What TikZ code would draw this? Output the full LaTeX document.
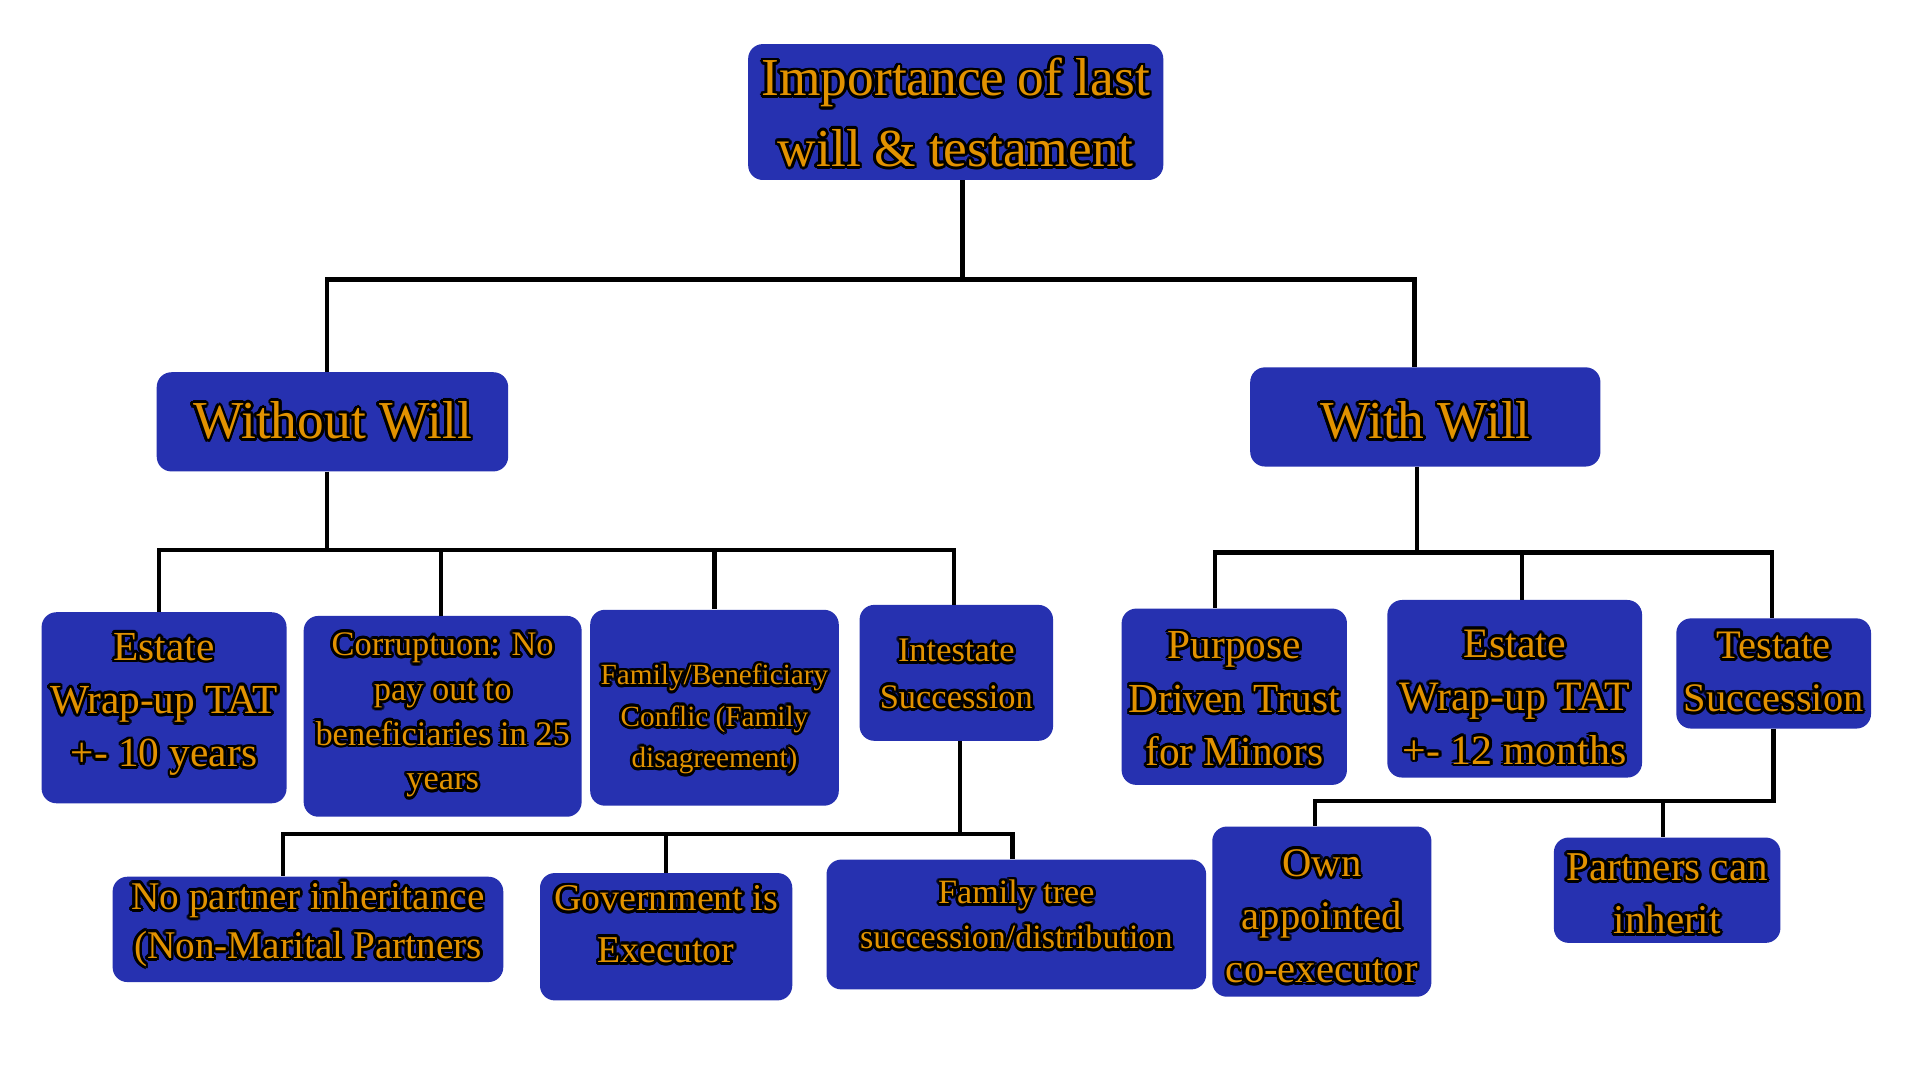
\documentclass[tikz,border=0pt]{standalone}
\usepackage{fontspec}
\setmainfont{Liberation Serif}
\usepackage{contour}
\contourlength{1.6pt}
\contournumber{16}
\definecolor{boxblue}{RGB}{38,49,176}
\definecolor{txtorange}{RGB}{226,146,0}
\newcommand\ol[1]{\contour{black}{#1}}
\tikzset{
  box/.style={fill=boxblue, rounded corners=3mm, inner sep=0pt},
  lbl/.style={text=txtorange, align=center, inner sep=0pt},
  wire/.style={line width=0.9mm, black},
  fs/.style 2 args={font=\fontsize{#1}{#2}\selectfont}
}
\begin{document}
\begin{tikzpicture}[x=0.25mm,y=-0.25mm]
\useasboundingbox (0,0) rectangle (1568,883);
\fill[white] (0,0) rectangle (1568,883);

% boxes
\node[box, minimum width=84.75mm, minimum height=27.75mm] (root) at (780.5,91.5) {};
\node[box, minimum width=71.75mm, minimum height=20.25mm] (without) at (271.5,344.5) {};
\node[box, minimum width=71.5mm, minimum height=20.25mm] (with) at (1164,340.5) {};
\node[box, minimum width=50mm, minimum height=39mm] (estA) at (134,578) {};
\node[box, minimum width=56.75mm, minimum height=41mm] (corr) at (361.5,585) {};
\node[box, minimum width=50.75mm, minimum height=40mm] (famben) at (583.5,578) {};
\node[box, minimum width=39.5mm, minimum height=27.75mm] (intest) at (781,549.5) {};
\node[box, minimum width=79.75mm, minimum height=21.5mm] (nopart) at (251.5,759) {};
\node[box, minimum width=51.5mm, minimum height=26mm] (gov) at (544,765) {};
\node[box, minimum width=77.5mm, minimum height=26.5mm] (famtree) at (830,755) {};
\node[box, minimum width=46mm, minimum height=36mm] (purp) at (1008,569) {};
\node[box, minimum width=52mm, minimum height=36.25mm] (estB) at (1237,562.5) {};
\node[box, minimum width=39.75mm, minimum height=22.5mm] (test) at (1448.5,550) {};
\node[box, minimum width=44.75mm, minimum height=34.75mm] (own) at (1079.5,744.5) {};
\node[box, minimum width=46.25mm, minimum height=21.5mm] (partn) at (1361.5,727) {};

% texts
\node[lbl, fs={31}{41}] (rootT) at ([yshift=-0.4mm]root.center) {\ol{Importance of last}\\\ol{will \& testament}};
\node[lbl, fs={31}{40}] (withoutT) at (without.center) {\ol{Without Will}};
\node[lbl, fs={31}{40}] (withT) at ([yshift=-1mm]with.center) {\ol{With Will}};
\node[lbl, fs={24}{31}] (estAT) at ([yshift=0.4mm]estA.center) {\ol{Estate}\\\ol{Wrap-up TAT}\\\ol{+- 10 years}};
\node[lbl, fs={20}{26}] (corrT) at (corr.center) {\ol{Corruptuon: No}\\\ol{pay out to}\\\ol{beneficiaries in 25}\\\ol{years}};
\node[lbl, fs={17}{24}] (fambenT) at ([yshift=-2.6mm]famben.center) {\ol{Family/Beneficiary}\\\ol{Conflic (Family}\\\ol{disagreement)}};
\node[lbl, fs={20}{27}] (intestT) at ([yshift=-0.5mm]intest.center) {\ol{Intestate}\\\ol{Succession}};
\node[lbl, fs={22.8}{28.5}] (nopartT) at ([yshift=0.75mm]nopart.center) {\ol{No partner inheritance}\\\ol{(Non-Marital Partners}};
\node[lbl, fs={22}{30}] (govT) at ([yshift=2.25mm]gov.center) {\ol{Government is}\\\ol{Executor}};
\node[lbl, fs={19.8}{26}] (famtreeT) at ([yshift=1.75mm]famtree.center) {\ol{Family tree}\\\ol{succession/distribution}};
\node[lbl, fs={24}{31}] (purpT) at ([yshift=-0.75mm]purp.center) {\ol{Purpose}\\\ol{Driven Trust}\\\ol{for Minors}};
\node[lbl, fs={24.3}{31}] (estBT) at ([yshift=-2mm]estB.center) {\ol{Estate}\\\ol{Wrap-up TAT}\\\ol{+- 12 months}};
\node[lbl, fs={23.5}{31}] (testT) at (test.center) {\ol{Testate}\\\ol{Succession}};
\node[lbl, fs={23.6}{31}] (ownT) at ([yshift=-1.25mm]own.center) {\ol{Own}\\\ol{appointed}\\\ol{co-executor}};
\node[lbl, fs={23.8}{31}] (partnT) at ([yshift=-1mm]partn.center) {\ol{Partners can}\\\ol{inherit}};

% connectors
\draw[wire] ([xshift=1.375mm]root.south) -- ++(0,81) -| ([xshift=-1.125mm]without.north);
\draw[wire] ([xshift=1.375mm]root.south) -- ++(0,81) -| ([xshift=-2.25mm]with.north);

\draw[wire] ([xshift=-1.125mm]without.south) -- ++(0,64) -| ([xshift=-1mm]estA.north);
\draw[wire] ([xshift=-1.125mm]without.south) -- ++(0,64) -| ([xshift=-0.375mm]corr.north);
\draw[wire] ([xshift=-1.125mm]without.south) -- ++(0,64) -| (famben.north);
\draw[wire] ([xshift=-1.125mm]without.south) -- ++(0,64) -| ([xshift=-0.5mm]intest.north);

\draw[wire] ([xshift=0.75mm]intest.south) -- ++(0,76) -| ([xshift=-5.125mm]nopart.north);
\draw[wire] ([xshift=0.75mm]intest.south) -- ++(0,76) -| (gov.north);
\draw[wire] ([xshift=0.75mm]intest.south) -- ++(0,76) -| ([xshift=-0.75mm]famtree.north);

\draw[wire] ([xshift=-1.75mm]with.south) -- ++(0,70) -| ([xshift=-4mm]purp.north);
\draw[wire] ([xshift=-1.75mm]with.south) -- ++(0,70) -| ([xshift=1.5mm]estB.north);
\draw[wire] ([xshift=-1.75mm]with.south) -- ++(0,70) -| ([xshift=-0.375mm]test.north);

\draw[wire] (test.south) -- ++(0,59) -| ([xshift=-1.375mm]own.north);
\draw[wire] (test.south) -- ++(0,59) -| ([xshift=-0.875mm]partn.north);
\end{tikzpicture}
\end{document}
